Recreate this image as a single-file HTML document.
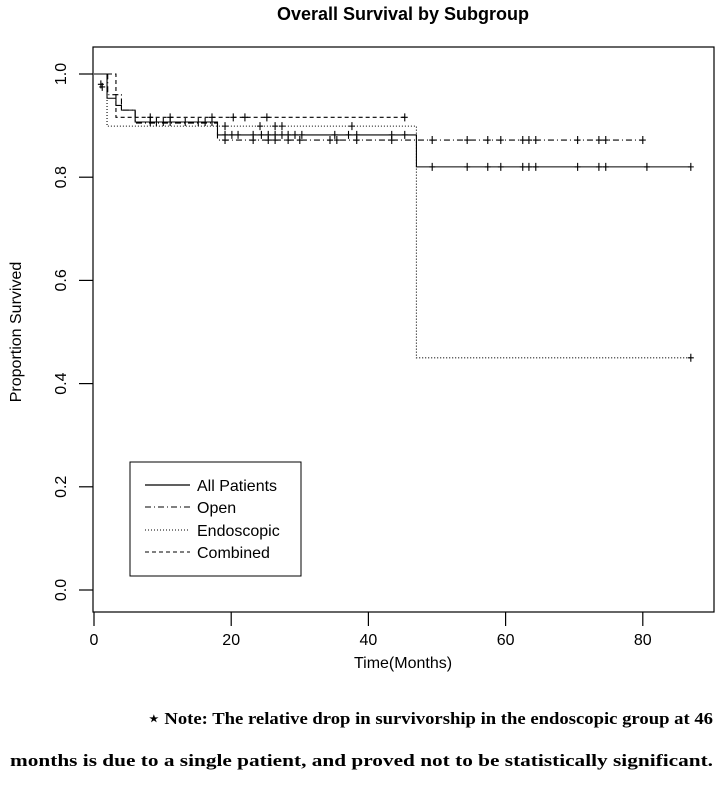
<!DOCTYPE html>
<html><head><meta charset="utf-8"><style>
body{margin:0;background:#fff}
svg{display:block}
text{font-family:"Liberation Sans",sans-serif;fill:#000}
.serif{font-family:"Liberation Serif",serif;font-weight:bold}
</style></head><body>
<svg id="chart" width="723" height="800" viewBox="0 0 723 800">
<text x="403" y="20" text-anchor="middle" font-size="18" font-weight="bold">Overall Survival by Subgroup</text>
<rect x="93" y="47" width="621" height="565" fill="none" stroke="#000" stroke-width="1.2"/>
<g id="axes"></g>
<g id="series"></g>
<text x="403" y="668" text-anchor="middle" font-size="16">Time(Months)</text>
<text transform="translate(21,332) rotate(-90)" text-anchor="middle" font-size="16">Proportion Survived</text>
<g>
<rect x="130" y="462" width="171" height="114" fill="#fff" stroke="#000" stroke-width="1"/>
<line x1="145" y1="485" x2="190" y2="485" stroke="#000" stroke-width="1.2"/>
<line x1="145" y1="507" x2="190" y2="507" stroke="#000" stroke-width="1" stroke-dasharray="6,3,1,3"/>
<line x1="145" y1="530" x2="190" y2="530" stroke="#000" stroke-width="1" stroke-dasharray="1,2"/>
<line x1="145" y1="552" x2="190" y2="552" stroke="#000" stroke-width="1" stroke-dasharray="4,3"/>
<text x="197" y="491" font-size="16">All Patients</text>
<text x="197" y="513" font-size="16">Open</text>
<text x="197" y="536" font-size="16">Endoscopic</text>
<text x="197" y="558" font-size="16">Combined</text>
</g>
<text class="serif" x="148" y="724" font-size="17" textLength="565" lengthAdjust="spacingAndGlyphs">⋆ Note:  The relative drop in survivorship in the endoscopic group at 46</text>
<text class="serif" x="10" y="766" font-size="17" textLength="703" lengthAdjust="spacingAndGlyphs">months is due to a single patient, and proved not to be statistically significant.</text>
</svg>
<script>
const xTicks=[0,20,40,60,80];
const yTicks=[0.0,0.2,0.4,0.6,0.8,1.0];
const allTimes=[0,1.9,3.2,4,6,18,47,87];
const allSurv=[1,0.953,0.939,0.93,0.907,0.882,0.82,0.82];
const allCens=[[1,0.98],[8.2,0.907],[9.1,0.907],[10.1,0.907],[11.1,0.907],[13.3,0.907],[15.2,0.907],[16.2,0.907],[17.2,0.907],[19.1,0.882],[20.1,0.882],[21,0.882],[23.2,0.882],[24.4,0.882],[25.4,0.882],[26.4,0.882],[27.4,0.882],[28.3,0.882],[29.3,0.882],[30.3,0.882],[35.1,0.882],[37.1,0.882],[38.3,0.882],[43.4,0.882],[45.3,0.882],[49.3,0.82],[54.4,0.82],[57.4,0.82],[59.3,0.82],[62.5,0.82],[63.4,0.82],[64.4,0.82],[70.5,0.82],[73.6,0.82],[74.6,0.82],[80.6,0.82],[87,0.82]];
const openTimes=[0,2,4,6,18,80];
const openSurv=[1,0.96,0.93,0.905,0.872,0.872];
const openCens=[[19.1,0.872],[23.2,0.872],[25.4,0.872],[26.4,0.872],[28.3,0.872],[30,0.872],[34.4,0.872],[35.4,0.872],[38.3,0.872],[43.4,0.872],[49.3,0.872],[54.4,0.872],[57.4,0.872],[59.3,0.872],[62.5,0.872],[63.4,0.872],[64.4,0.872],[70.5,0.872],[73.6,0.872],[74.6,0.872],[80,0.872]];
const endoTimes=[0,1.9,47,87];
const endoSurv=[1,0.899,0.45,0.45];
const endoCens=[[19.1,0.899],[24.2,0.899],[26.4,0.899],[27.4,0.899],[37.6,0.899],[87,0.45]];
const combTimes=[0,3.2,45.3];
const combSurv=[1,0.916,0.916];
const combCens=[[1.2,0.975],[8.2,0.916],[11.1,0.916],[17.2,0.916],[20.3,0.916],[22,0.916],[25.2,0.916],[45.3,0.916]];

const NS='http://www.w3.org/2000/svg';
const X=t=>94+t*6.86;
const Y=s=>590-s*516;
function mk(tag,attrs,parent){const e=document.createElementNS(NS,tag);for(const k in attrs)e.setAttribute(k,attrs[k]);parent.appendChild(e);return e;}
const axes=document.getElementById('axes');
xTicks.forEach(v=>{
  const l=mk('line',{x1:X(v),x2:X(v),y1:612,y2:626,stroke:'#000','stroke-width':1.2},axes);
  
  
  const t=mk('text',{x:X(v),y:645,'text-anchor':'middle','font-size':16},axes);
  t.textContent=String(v);
  
  
});
yTicks.forEach(v=>{
  const l=mk('line',{x1:79,x2:93,y1:Y(v),y2:Y(v),stroke:'#000','stroke-width':1.2},axes);
  
  
  const t=mk('text',{transform:`translate(66,${Y(v)}) rotate(-90)`,'text-anchor':'middle','font-size':16},axes);
  t.textContent=v.toFixed(1);
  
  
});
const ser=document.getElementById('series');
function draw(name,times,surv,cens,dash){
  let d=`M${X(times[0])},${Y(surv[0])}`;
  for(let i=1;i<times.length;i++){d+=` H${X(times[i])} V${Y(surv[i])}`;}
  const p=mk('path',{d:d,fill:'none',stroke:'#000','stroke-width':1.1},ser);
  if(dash)p.setAttribute('stroke-dasharray',dash);
  
  
  cens.forEach(c=>{
    const cx=X(c[0]),cy=Y(c[1]);
    const m=mk('path',{d:`M${cx},${cy-4}V${cy+4}M${cx-3},${cy}H${cx+3}`,stroke:'#000','stroke-width':1.1,fill:'none'},ser);
    
    
  });
}
draw('all-patients',allTimes,allSurv,allCens,null);
draw('open',openTimes,openSurv,openCens,'6,3,1,3');
draw('endoscopic',endoTimes,endoSurv,endoCens,'1,2');
draw('combined',combTimes,combSurv,combCens,'4,3');
</script>
</body></html>
